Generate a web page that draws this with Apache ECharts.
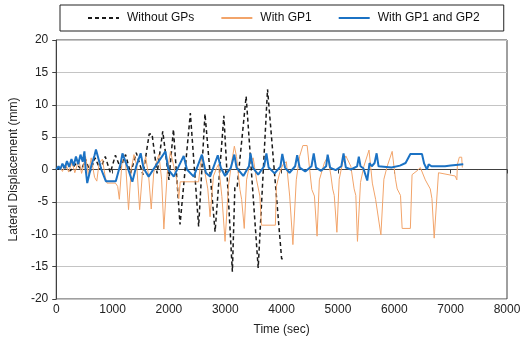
<!DOCTYPE html>
<html>
<head>
<meta charset="utf-8">
<script src="https://cdn.jsdelivr.net/npm/echarts@6/dist/echarts.min.js"></script>
<style>
  html, body { margin: 0; padding: 0; background: #fff; }
  #chart { width: 528px; height: 341px; }
</style>
</head>
<body>
<div id="chart"></div>
<script>
// series names
const seriesNames = ["Without GPs", "With GP1", "With GP1 and GP2"];

// Without GPs (dashed black)
const noGpTime = [0, 150, 250, 350, 450, 520, 600, 690, 780, 870, 960, 1050, 1140, 1230, 1320, 1420, 1540,
  1650, 1700, 1790, 1890, 1920, 2000, 2080, 2100, 2197, 2380, 2410, 2527, 2640, 2670, 2819, 2975,
  3126, 3170, 3210, 3370, 3390, 3584, 3750, 3770, 4000, 4060];
const noGpDisp = [0, 0.4, -0.2, 0.9, 0, 1.6, -0.4, 1.8, 0, 2.0, -0.5, 2.2, 0.2, 2.3, -0.6, 2.6, -0.8,
  5.5, 5.5, -0.6, 5.9, 5.9, -1.6, 6.2, 6.2, -8.5, 8.7, 8.7, -8.8, 8.6, 8.6, -9.6, 8.3,
  -15.8, -2.8, -2.8, 11.3, 11.3, -15.2, 12.4, 12.4, -13.8, -13.8];

// With GP1 (orange)
const gp1Time = [0, 60, 110, 170, 220, 280, 330, 400, 450, 520, 570, 620, 680, 720, 760, 820, 870, 900,
  1050, 1090, 1120, 1170, 1230, 1283, 1330, 1380, 1430, 1480, 1530, 1586, 1640, 1686, 1730, 1790,
  1822, 1870, 1910, 1970, 2027, 2086, 2140, 2175, 2200, 2527, 2555, 2585, 2640, 2690, 2730, 2790,
  2850, 2880, 2940, 2996, 3055, 3115, 3161, 3200, 3260, 3290, 3337, 3378, 3437, 3496, 3555, 3614,
  3642, 3889, 3907, 3966, 4025, 4084, 4143, 4200, 4260, 4318, 4377, 4453, 4494, 4536, 4582, 4629,
  4670, 4758, 4817, 4876, 4906, 4934, 4981, 5022, 5081, 5140, 5228, 5287, 5317, 5346, 5400, 5460,
  5551, 5610, 5668, 5762, 5815, 5874, 5962, 6021, 6051, 6110, 6139, 6285, 6315, 6403, 6462, 6550,
  6638, 6668, 6708, 6784, 7080, 7110, 7120, 7154, 7196, 7207];
const gp1Disp = [0, 0.5, -0.3, 0.8, -0.4, 1.1, -0.5, 1.5, -0.6, 2.0, -0.8, 1.8, -1.2, -1.8, 1.0, 1.6, -1.2, -2.1,
  -2.1, -2.6, -4.6, 1.5, 1.0, -6.2, 0, 2.3, 0.5, -6.2, -0.5, 2.0, -1.0, -6.1, -0.5, 1.5,
  2.3, -1.5, -9.2, -0.5, 2.8, 0.5, -1.6, -4.5, -1.9, -1.9, 0.5, 2.0, -0.5, -3.0, -7.3, -1.0,
  0.3, 0.8, -4.2, -11.1, -2.6, 1.2, 3.6, 2.0, -3.1, -4.6, -9.1, -1.6, 1.0, 1.8, -1.6, -4.1,
  -8.6, -8.6, -2.6, -0.5, 0.8, 1.2, -4.1, -11.6, -1.6, 2.0, 3.7, 3.7, 0.3, -3.1, -4.1, -10.3,
  -1.6, 1.0, 2.0, -1.0, -3.0, -4.0, -9.7, -1.5, 1.0, 2.1, 0.5, -3.0, -4.0, -11.1, -2.0, 0.5,
  3.0, -2.1, -4.6, -10.1, -1.5, 0.5, 2.8, -1.5, -3.0, -4.0, -9.1, -9.1, -0.8, -0.2, 0.3, -1.6,
  -3.0, -4.5, -10.6, -0.5, -1.0, -1.6, 0.8, 1.9, 1.9, 0.3];

// With GP1 and GP2 (blue)
const gp12Time = [0, 40, 70, 110, 150, 190, 230, 270, 310, 350, 390, 430, 470, 500, 520, 550, 580, 620,
  680, 705, 760, 800, 880, 1057, 1145, 1175, 1260, 1351, 1420, 1498, 1550, 1640, 1760, 1938, 1990,
  2086, 2262, 2320, 2440, 2585, 2655, 2730, 2867, 2920, 2996, 3100, 3161, 3200, 3320, 3420, 3448,
  3490, 3584, 3690, 3730, 3770, 3876, 3980, 4012, 4060, 4140, 4240, 4276, 4320, 4420, 4530, 4570,
  4610, 4700, 4790, 4817, 4860, 4960, 5060, 5099, 5140, 5230, 5340, 5370, 5400, 5450, 5520, 5560,
  5600, 5650, 5686, 5720, 5950, 6100, 6200, 6285, 6491, 6530, 6580, 6610, 6660, 6900, 7000, 7020, 7224];
const gp12Disp = [0, 0.5, 0, 0.9, 0.2, 1.3, 0.4, 1.6, 0.6, 2.0, 0.8, 2.3, 1.2, 2.8, 0.2, -2.1, -2.3, 0.5,
  2.2, 3.1, 1.3, 0, -1.8, -1.8, 1.0, 2.5, 0.5, -1.9, 0.5, 2.5, 0.2, -1.1, 0.5, 2.8, 0,
  -1.1, 2.1, 0, -1.1, 2.3, -0.5, -1.1, 2.2, 0.3, -1.0, 0.3, 2.3, 0.3, -1.0, 0.5, 2.5,
  0.3, -0.8, 0.5, 2.5, 0.3, -0.6, 0.5, 2.4, 0.3, -0.5, 0.5, 2.2, 0.3, -0.3, 0.5, 2.5,
  0.3, -0.2, 0.5, 2.3, 0.3, -0.1, 0.5, 2.5, 0.3, 0, 0.5, 2.0, 0.5, 0.2, -1.7, 1.0,
  0.5, 1.0, 2.5, 0.5, 0.3, 0.6, 1.0, 2.4, 2.4, 0.9, 0, 0.8, 0.5, 0.5, 0.6, 0.8, 0.8];

// axis ticks
const xTicks = [0, 8000, 1000];
const yTicks = [-20, 20, 5];

const zip = (xs, ys) => xs.map((x, i) => [x, ys[i]]);
const font = "Liberation Sans, Arial, sans-serif";

const chart = echarts.init(document.getElementById("chart"));
chart.setOption({
  animation: false,
  textStyle: { fontFamily: font },
  grid: {
    left: 53, right: 21, top: 40, bottom: 42,
    show: true, borderColor: "#404040", borderWidth: 1,
  },
  legend: {
    left: 60, top: 5,
    padding: [7, 24, 7, 27],
    borderColor: "#222", borderWidth: 1,
    itemWidth: 31, itemHeight: 10, itemGap: 26,
    itemStyle: { opacity: 0 },
    textStyle: { fontSize: 12, color: "#111", fontFamily: font, padding: [0, 0, 0, 3] },
    data: seriesNames,
  },
  xAxis: {
    type: "value",
    min: xTicks[0], max: xTicks[1], interval: xTicks[2],
    name: "Time (sec)", nameLocation: "middle", nameGap: 25,
    nameTextStyle: { fontSize: 12, color: "#222" },
    axisLine: { lineStyle: { color: "#404040" } },
    axisTick: { show: true, length: 4, lineStyle: { color: "#404040" } },
    axisLabel: { fontSize: 12, color: "#222", margin: 5, formatter: (v) => String(v) },
    splitLine: { show: false },
  },
  yAxis: {
    type: "value",
    min: yTicks[0], max: yTicks[1], interval: yTicks[2],
    name: "Lateral Displacement (mm)", nameLocation: "middle", nameGap: 33,
    nameTextStyle: { fontSize: 12, color: "#222" },
    axisLine: { show: true, lineStyle: { color: "#404040" } },
    axisTick: { show: true, length: 4, lineStyle: { color: "#404040" } },
    axisLabel: { fontSize: 12, color: "#222", margin: 8 },
    splitLine: { show: true, lineStyle: { color: "#C4C4C4", width: 1 } },
  },
  series: [
    {
      name: seriesNames[0], type: "line", symbol: "none",
      data: zip(noGpTime, noGpDisp),
      lineStyle: { color: "#1a1a1a", width: 1.5, type: [4, 3] },
      itemStyle: { color: "#1a1a1a" },
    },
    {
      name: seriesNames[1], type: "line", symbol: "none",
      data: zip(gp1Time, gp1Disp),
      lineStyle: { color: "#F2A46A", width: 1 },
      itemStyle: { color: "#F2A46A" },
    },
    {
      name: seriesNames[2], type: "line", symbol: "none",
      data: zip(gp12Time, gp12Disp),
      lineStyle: { color: "#1B72C4", width: 2 },
      itemStyle: { color: "#1B72C4" },
    },
  ],
});
</script>
</body>
</html>
